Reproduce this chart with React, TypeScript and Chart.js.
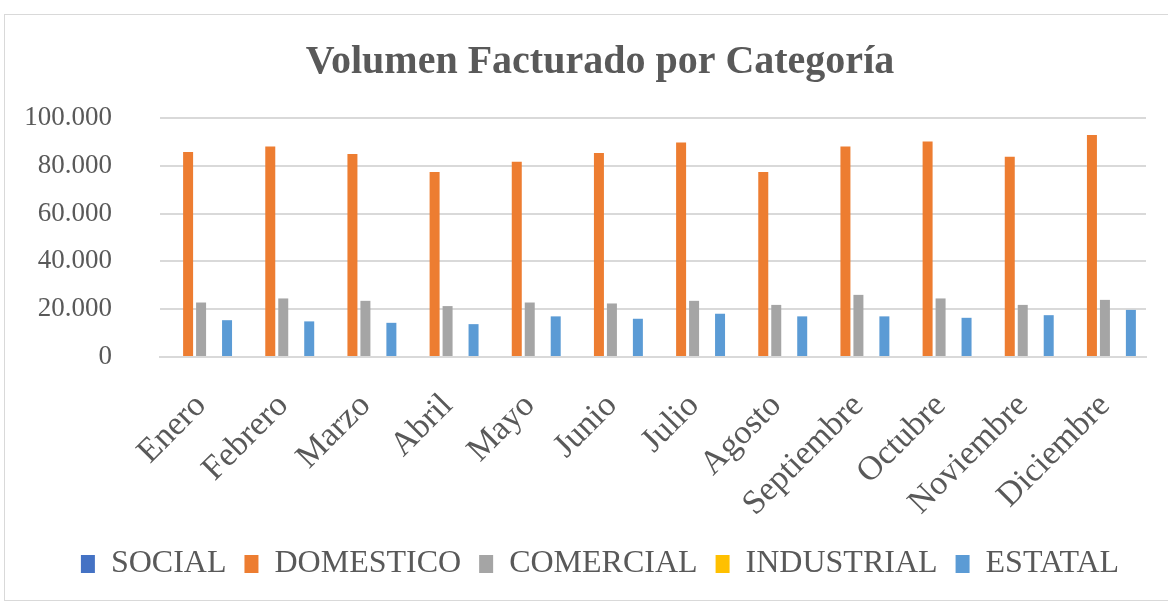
import React, { useEffect, useRef } from "react";
import { Chart, registerables } from "chart.js";

Chart.register(...registerables);

const months = ["Enero", "Febrero", "Marzo", "Abril", "Mayo", "Junio", "Julio", "Agosto", "Septiembre", "Octubre", "Noviembre", "Diciembre"];
const social = [0, 0, 0, 0, 0, 0, 0, 0, 0, 0, 0, 0];
const domestico = [85800, 88100, 84900, 77400, 81700, 85400, 89700, 77400, 88100, 90200, 83800, 92900];
const comercial = [22800, 24500, 23500, 21300, 22800, 22400, 23500, 21800, 26000, 24500, 21800, 23900];
const industrial = [0, 0, 0, 0, 0, 0, 0, 0, 0, 0, 0, 0];
const estatal = [15400, 14900, 14300, 13750, 17000, 16000, 18100, 17000, 17000, 16400, 17500, 19700];

const FONT = "'Liberation Serif', serif";
const TEXT = "#595959";

function fmt(v: number): string {
  const s = Math.round(v).toString();
  return s.replace(/\B(?=(\d{3})+(?!\d))/g, ".");
}

export default function App() {
  const ref = useRef<HTMLCanvasElement | null>(null);
  useEffect(() => {
    if (!ref.current) return;
    const mk = (label: string, data: number[], color: string) => ({
      label,
      data,
      backgroundColor: color,
      borderWidth: 0,
      barPercentage: 0.77,
      categoryPercentage: 0.79,
    });
    const chart = new Chart(ref.current, {
      type: "bar",
      data: {
        labels: months,
        datasets: [
          mk("SOCIAL", social, "#4472C4"),
          mk("DOMESTICO", domestico, "#ED7D31"),
          mk("COMERCIAL", comercial, "#A5A5A5"),
          mk("INDUSTRIAL", industrial, "#FFC000"),
          mk("ESTATAL", estatal, "#5B9BD5"),
        ],
      },
      options: {
        animation: false,
        responsive: true,
        maintainAspectRatio: false,
        layout: { padding: { left: 19, right: 19, top: 0, bottom: 10 } },
        plugins: {
          title: {
            display: true,
            text: "Volumen Facturado por Categoría",
            color: TEXT,
            font: { family: FONT, size: 40, weight: "bold" },
            padding: { top: 24, bottom: 31 },
          },
          legend: {
            position: "bottom",
            labels: {
              color: TEXT,
              font: { family: FONT, size: 32 },
              boxWidth: 14,
              boxHeight: 18,
              padding: 18,
            },
          },
          tooltip: { enabled: false },
        },
        scales: {
          x: {
            grid: { display: false },
            border: { display: true, color: "#d9d9d9", width: 2 },
            ticks: {
              color: TEXT,
              font: { family: FONT, size: 34 },
              minRotation: 45,
              maxRotation: 45,
              padding: 21,
            },
            afterFit: (scale: any) => {
              scale.paddingLeft = 0;
              scale.paddingRight = 49;
              scale.height = 173;
            },
          },
          y: {
            min: 0,
            max: 100000,
            border: { display: false },
            grid: { color: "#d9d9d9", lineWidth: 2, drawTicks: false },
            ticks: {
              stepSize: 20000,
              color: TEXT,
              font: { family: FONT, size: 27 },
              padding: 48,
              callback: (v: any) => fmt(Number(v)),
            },
            afterFit: (scale: any) => {
              scale.width = 136;
            },
          },
        },
      },
    });
    return () => chart.destroy();
  }, []);
  return (
    <div style={{ position: "absolute", left: 0, top: 0, width: 1168, height: 601, overflow: "hidden" }}>
      <div
        style={{
          position: "absolute",
          left: 4,
          top: 14,
          width: 1192,
          height: 587,
          border: "1px solid #d9d9d9",
          boxSizing: "border-box",
          background: "#fff",
        }}
      >
        <canvas ref={ref} />
      </div>
    </div>
  );
}
